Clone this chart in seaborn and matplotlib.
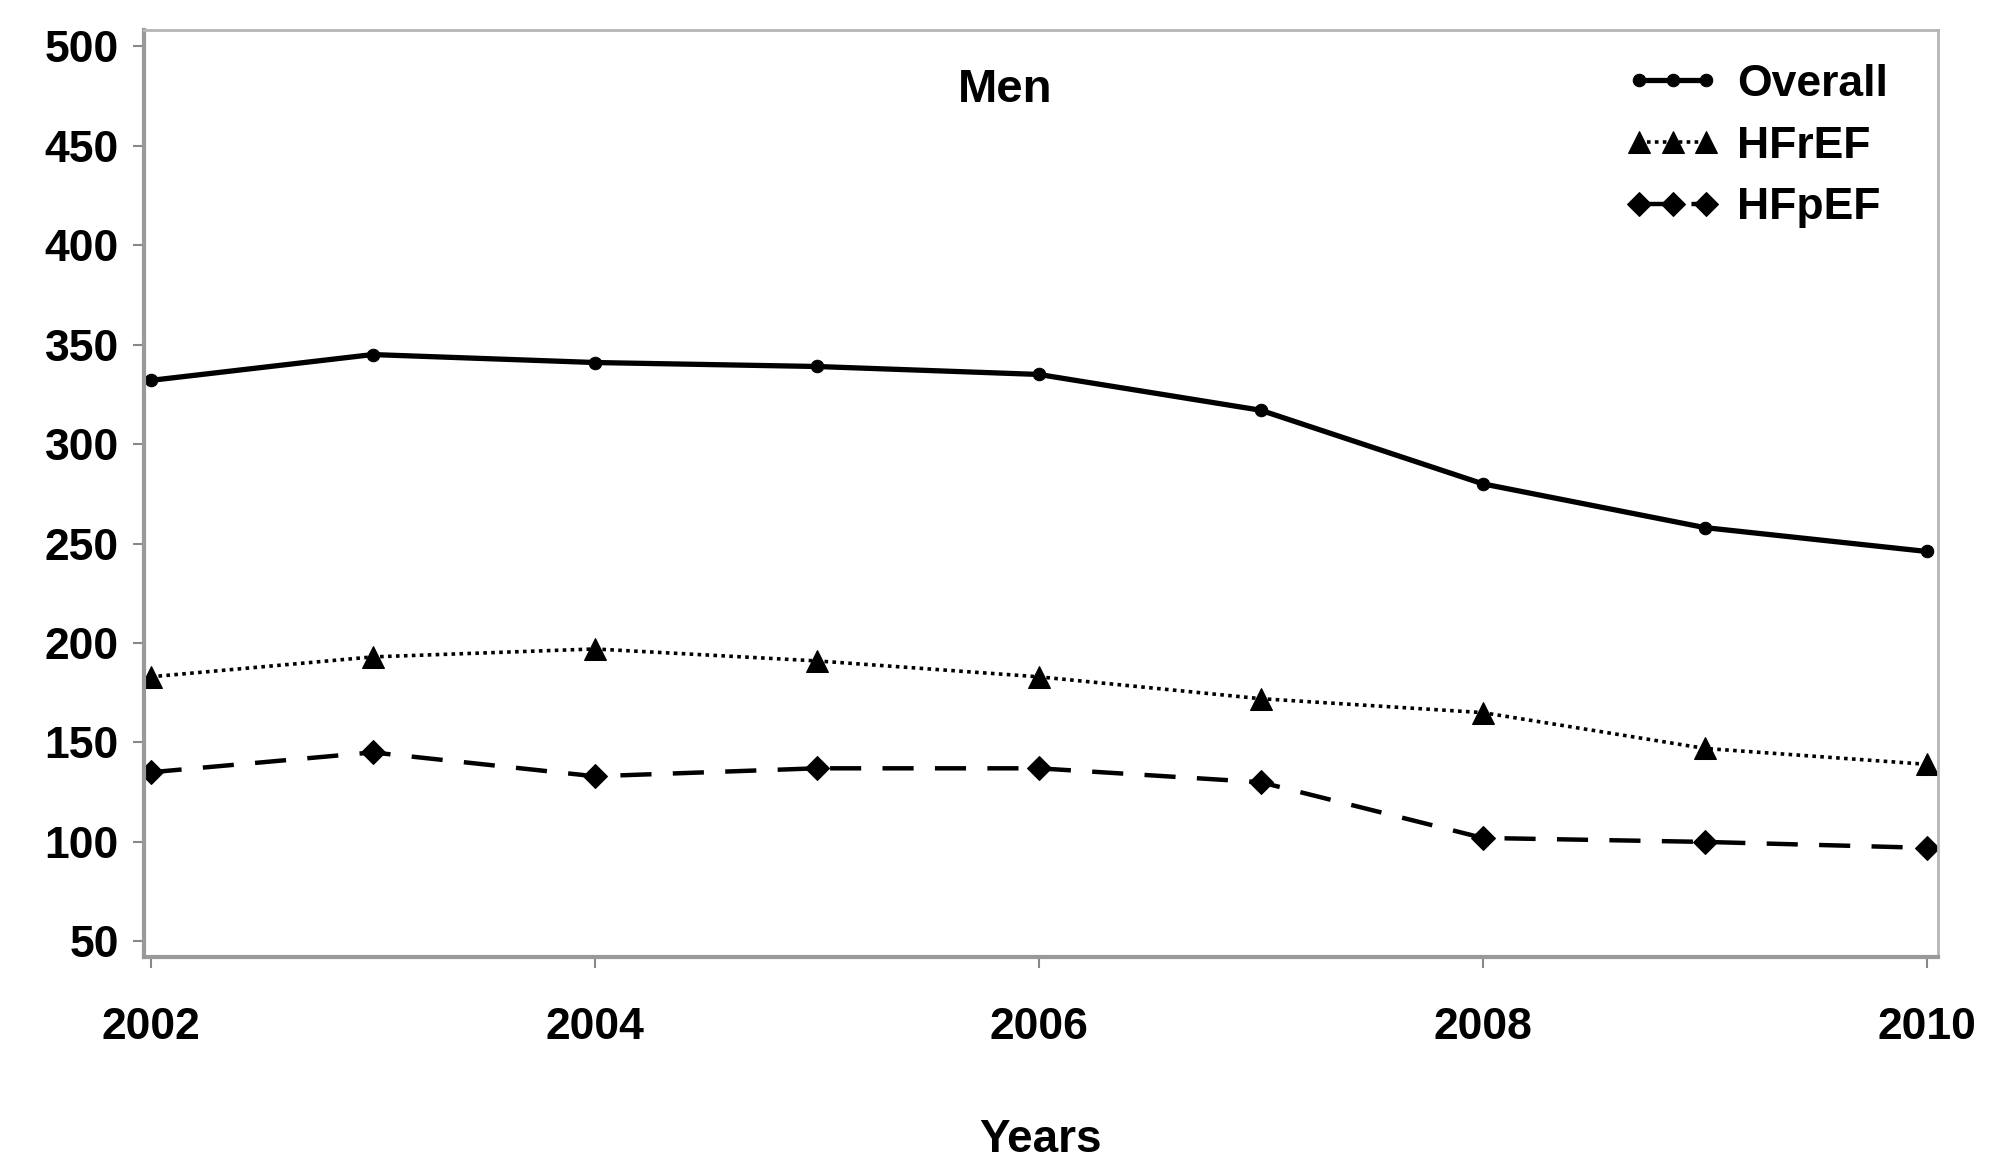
import matplotlib
matplotlib.use('Agg')
import matplotlib.pyplot as plt
import seaborn as sns
import pandas as pd

# values
years = [2002, 2003, 2004, 2005, 2006, 2007, 2008, 2009, 2010]
overall = [332, 345, 341, 339, 335, 317, 280, 258, 246]
hfref = [183, 193, 197, 191, 183, 172, 165, 147, 139]
hfpef = [135, 145, 133, 137, 137, 130, 102, 100, 97]
series_names = ['Overall', 'HFrEF', 'HFpEF']
x_ticks = [2002, 2004, 2006, 2008, 2010]
y_ticks = [50, 100, 150, 200, 250, 300, 350, 400, 450, 500]

df = pd.DataFrame({'Years': years, 'Overall': overall, 'HFrEF': hfref, 'HFpEF': hfpef})

sns.set_style('white')
plt.rcParams['font.family'] = ['Liberation Sans', 'DejaVu Sans']
plt.rcParams['text.color'] = 'black'
plt.rcParams['axes.labelcolor'] = 'black'
plt.rcParams['xtick.color'] = 'black'
plt.rcParams['ytick.color'] = 'black'
plt.rcParams['font.weight'] = 'bold'
plt.rcParams['axes.labelweight'] = 'bold'

fig = plt.figure(figsize=(19.99, 11.66), dpi=100)
ax = fig.add_axes([0.072, 0.179, 0.8975, 0.795])

styles = {
    'Overall': dict(marker='o', markersize=9, linestyle='-', linewidth=3.8),
    'HFrEF': dict(marker='^', markersize=16, linestyle=(0, (1, 1.2)), linewidth=2.6),
    'HFpEF': dict(marker='D', markersize=12, linestyle=(0, (7, 4.8)), linewidth=3.2),
}
for name in series_names:
    sns.lineplot(data=df, x='Years', y=name, ax=ax, color='black',
                 markeredgecolor='black', label=name, **styles[name])

ax.set_xlim(2001.97, 2010.05)
ax.set_ylim(42, 508)
ax.set_xticks(x_ticks)
ax.set_yticks(y_ticks)
ax.tick_params(axis='both', labelsize=32, length=8, width=1.5, color='#888888',
               direction='out', pad=10, left=True, bottom=True)
ax.tick_params(axis='x', pad=28)

for side in ['top', 'right']:
    ax.spines[side].set_color('#b5b5b5')
    ax.spines[side].set_linewidth(2)
for side in ['left', 'bottom']:
    ax.spines[side].set_color('#999999')
    ax.spines[side].set_linewidth(3)

ax.set_xlabel('Years', fontsize=33, labelpad=50)
ax.set_ylabel('')
ax.text(2005.85, 478, 'Men', fontsize=34, ha='center', va='center')

ax.legend(loc='upper left', bbox_to_anchor=(0.826, 0.964), frameon=False, fontsize=32,
          numpoints=3, handlelength=2.1, handletextpad=0.4, labelspacing=0.47,
          borderpad=0, borderaxespad=0)

fig.savefig('out.png', dpi=100)
